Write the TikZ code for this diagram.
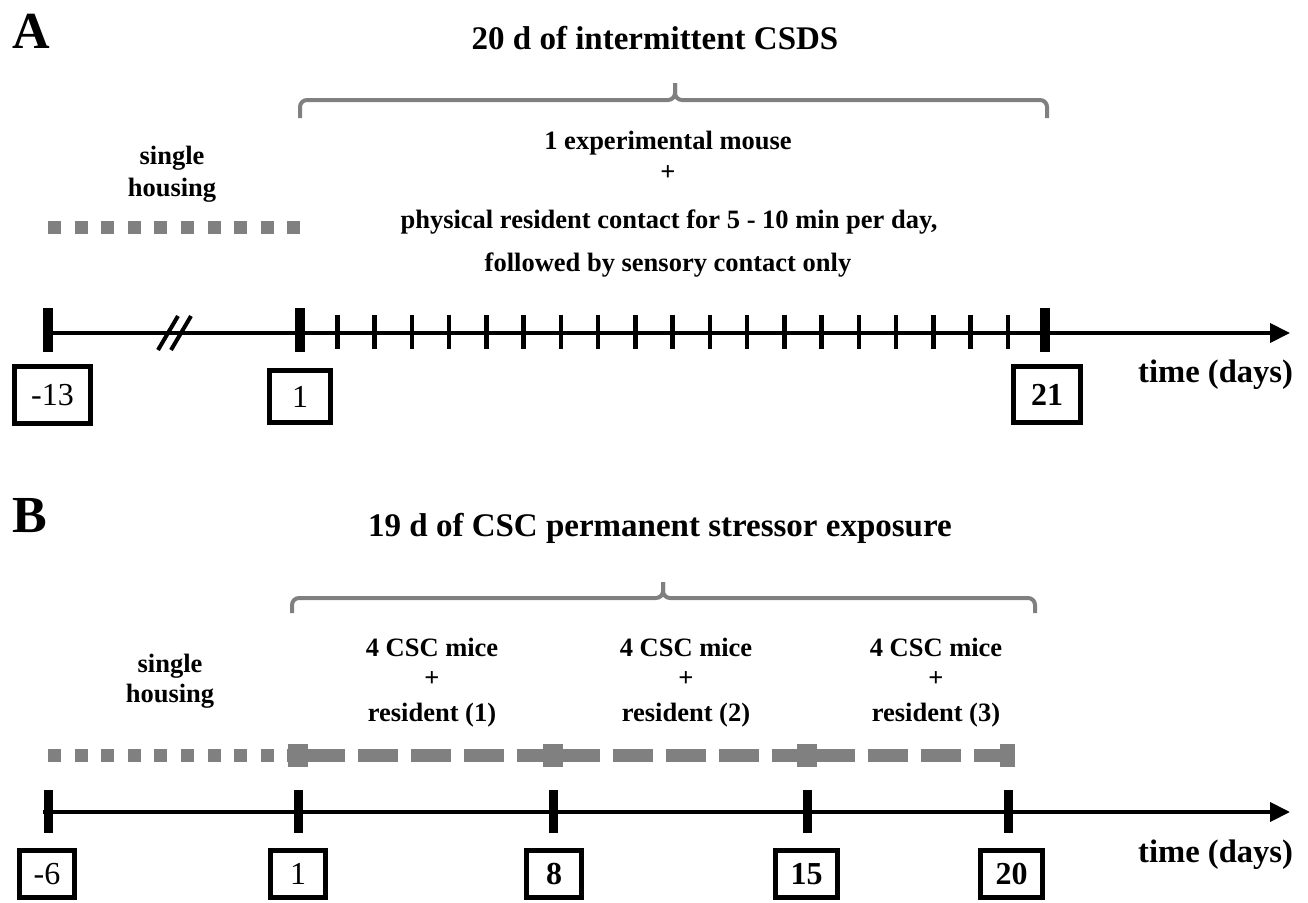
\documentclass[tikz,border=0pt]{standalone}
\usepackage{fontspec}
\setmainfont{Liberation Serif}
\usetikzlibrary{arrows.meta}
\definecolor{braceGray}{RGB}{128,128,128}
\begin{document}
\begin{tikzpicture}[x=1pt,y=-1pt,
  body/.style={font=\fontsize{26.5}{30}\selectfont\bfseries, anchor=base, inner sep=0pt},
  title/.style={font=\fontsize{33}{36}\selectfont\bfseries, anchor=base, inner sep=0pt},
  panel/.style={font=\fontsize{52}{56}\selectfont\bfseries, anchor=base west, inner sep=0pt},
  axislabel/.style={font=\fontsize{32.6}{36}\selectfont\bfseries, anchor=base west, inner sep=0pt},
  numbox/.style={draw, line width=5pt, inner sep=0pt, font=\fontsize{32}{35}\selectfont},
  numboxbf/.style={numbox, font=\fontsize{32}{35}\selectfont\bfseries},
  timeaxis/.style={line width=4pt, -{Triangle[length=20pt,width=19pt]}},
  bigtick/.style={line width=10pt},
  bigtickb/.style={line width=9pt},
  smalltick/.style={line width=4.5pt},
  slashmark/.style={line width=4pt},
  bracket/.style={draw=braceGray, line width=4pt, rounded corners=7pt},
  dotline/.style={draw=braceGray, line width=13pt, dash pattern=on 13pt off 13.6pt},
  dashline/.style={draw=braceGray, line width=13pt, dash pattern=on 40pt off 13pt},
  bump/.style={fill=braceGray}
]
\useasboundingbox (0,0) rectangle (1308,902);

% ================= Panel A =================
\node[panel] (labA) at (12,48) {A};
\node[title] (titA) at (655,49) {20 d of intermittent CSDS};

% brace A
\draw[bracket] (300,118) -- (300,100) -- (675,100) -- (675,83);
\draw[bracket] (1047,118) -- (1047,100) -- (675,100) -- (675,83);

\node[body] (singA1) at (172,164) {single};
\node[body] (singA2) at (172,196) {housing};

\node[body] (bA1) at (668,149) {1 experimental mouse};
\node[body] (bA2) at (668,180) {+};
\node[body] (bA3) at (669,228) {physical resident contact for 5 - 10 min per day,};
\node[body] (bA4) at (668,271) {followed by sensory contact only};

\draw[dotline] (48,227) -- (300.5,227);

% axis A
\coordinate (aS) at (43,333);
\coordinate (aE) at (1290,333);
\draw[timeaxis] (aS) -- (aE);
\foreach \x in {48,300,1045} \draw[bigtick] (\x,308) -- (\x,352);
\foreach \i in {1,...,19} \draw[smalltick] ({300+\i*37.25},315) -- ({300+\i*37.25},349);
\draw[slashmark] (158,350) -- (178,316);
\draw[slashmark] (171,350) -- (191,316);

\node[numbox, minimum width=76pt, minimum height=57pt] (m13) at (52.5,395) {-13};
\node[numbox, minimum width=61pt, minimum height=52pt] (a1) at (300,396.5) {1};
\node[numboxbf, minimum width=67pt, minimum height=56pt] (a21) at (1047,394.5) {21};
\node[axislabel] (tA) at (1138,382) {time (days)};

% ================= Panel B =================
\node[panel] (labB) at (12,532) {B};
\node[title] (titB) at (660,536) {19 d of CSC permanent stressor exposure};

% brace B
\draw[bracket] (292,613) -- (292,598) -- (663,598) -- (663,582);
\draw[bracket] (1035,613) -- (1035,598) -- (663,598) -- (663,582);

\node[body] (singB1) at (170,672) {single};
\node[body] (singB2) at (170,702) {housing};

\node[body] (c1a) at (432,656) {4 CSC mice};
\node[body] (c1b) at (432,686) {+};
\node[body] (c1c) at (432,721) {resident (1)};
\node[body] (c2a) at (686,656) {4 CSC mice};
\node[body] (c2b) at (686,686) {+};
\node[body] (c2c) at (686,721) {resident (2)};
\node[body] (c3a) at (936,656) {4 CSC mice};
\node[body] (c3b) at (936,686) {+};
\node[body] (c3c) at (936,721) {resident (3)};

% dotted / dashed bar B
\draw[dotline] (48,755) -- (290,755);
\draw[dashline] (305,755) -- (553,755);
\draw[dashline] (560,755) -- (807,755);
\draw[dashline] (815,755) -- (1008,755);
\foreach \x in {298,553,807} \fill[bump] ({\x-10},743.5) rectangle ({\x+10},766.5);
\fill[bump] (1000,743.5) rectangle (1015,766.5);

% axis B
\coordinate (bS) at (43,812);
\coordinate (bE) at (1290,812);
\draw[timeaxis] (bS) -- (bE);
\foreach \x in {48,298,553,807,1008} \draw[bigtickb] (\x,790) -- (\x,833);

\node[numbox, minimum width=55pt, minimum height=47pt] (m6) at (47,874) {-6};
\node[numbox, minimum width=55pt, minimum height=47pt] (b1) at (298,874) {1};
\node[numboxbf, minimum width=55pt, minimum height=47pt] (b8) at (554,874) {8};
\node[numboxbf, minimum width=62pt, minimum height=47pt] (b15) at (806.5,874) {15};
\node[numboxbf, minimum width=62pt, minimum height=47pt] (b20) at (1011.5,874) {20};
\node[axislabel] (tB) at (1138,862) {time (days)};
\end{tikzpicture}
\end{document}
